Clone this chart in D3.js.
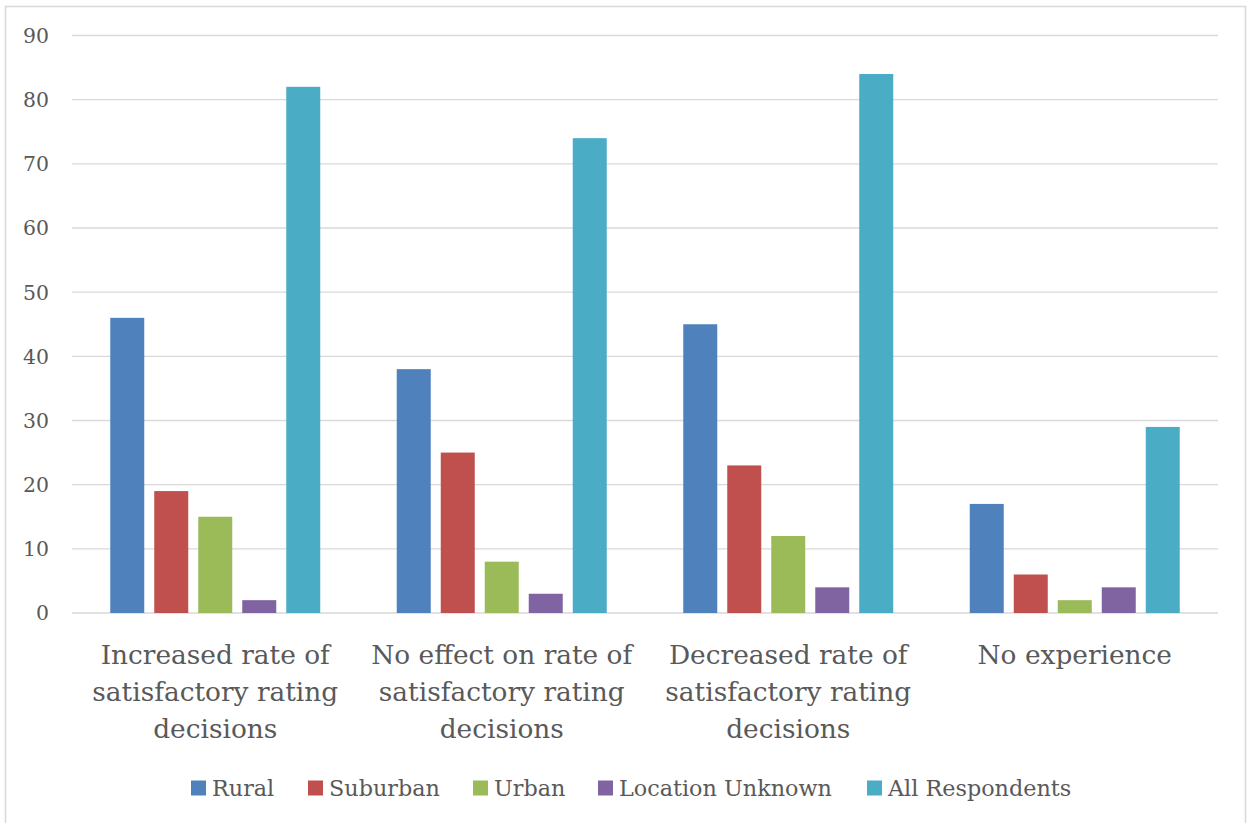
<!DOCTYPE html>
<html><head><meta charset="utf-8">
<script src="https://cdn.jsdelivr.net/npm/d3@7"></script>
<style>body{margin:0;background:#fff;} svg{display:block;}</style>
</head><body>
<svg id="c" width="1248" height="823"></svg>
<script>
const categories = [
  ["Increased rate of", "satisfactory rating", "decisions"],
  ["No effect on rate of", "satisfactory rating", "decisions"],
  ["Decreased rate of", "satisfactory rating", "decisions"],
  ["No experience"]
];
const seriesNames = ["Rural", "Suburban", "Urban", "Location Unknown", "All Respondents"];
const seriesColors = ["#4F81BD", "#C0504D", "#9BBB59", "#8064A2", "#4BACC6"];
const rural = [46, 38, 45, 17];
const suburban = [19, 25, 23, 6];
const urban = [15, 8, 12, 2];
const locationUnknown = [2, 3, 4, 4];
const allRespondents = [82, 74, 84, 29];
const yTicks = [0, 10, 20, 30, 40, 50, 60, 70, 80, 90];

const seriesValues = [rural, suburban, urban, locationUnknown, allRespondents];
const font = "'DejaVu Serif', serif";
const txt = "#595959";
const svg = d3.select("#c");

svg.append("rect").attr("x", 5.5).attr("y", 6.5).attr("width", 1240).attr("height", 830)
  .attr("fill", "#fff").attr("stroke", "#d9d9d9").attr("stroke-width", 1.5);

const pLeft = 72, pRight = 1218, pTop = 35.5, pBottom = 613;
const x0 = d3.scaleBand().domain(d3.range(categories.length)).range([pLeft, pRight]);
const x1 = d3.scaleBand().domain(d3.range(seriesNames.length)).range([0, 210]).paddingInner(10/44);
const y = d3.scaleLinear().domain([0, 90]).range([pBottom, pTop]);

// gridlines
svg.append("g").selectAll("line").data(yTicks).join("line")
  .attr("x1", pLeft).attr("x2", pRight)
  .attr("y1", d => y(d)).attr("y2", d => y(d))
  .attr("stroke", "#d9d9d9").attr("stroke-width", 1.3);

// y tick labels
svg.append("g").selectAll("text").data(yTicks).join("text")
  .attr("x", 49).attr("y", d => y(d)).attr("dy", "0.36em")
  .attr("text-anchor", "end").attr("fill", txt)
  .attr("font-family", font).attr("font-size", 20.4).text(d => d);

// bars
const groups = svg.append("g").selectAll("g").data(categories.map((c, i) => i)).join("g")
  .attr("transform", i => `translate(${x0(i) + x0.bandwidth()/2 - 105},0)`);
groups.selectAll("rect").data(i => seriesValues.map((s, k) => ({k, v: s[i]}))).join("rect")
  .attr("x", d => x1(d.k)).attr("width", x1.bandwidth())
  .attr("y", d => y(d.v)).attr("height", d => y(0) - y(d.v))
  .attr("fill", d => seriesColors[d.k]);

// category labels
const cl = svg.append("g").selectAll("text").data(categories).join("text")
  .attr("text-anchor", "middle").attr("fill", txt)
  .attr("font-family", font).attr("font-size", 26.4)
  .attr("transform", (d, i) => `translate(${x0(i) + x0.bandwidth()/2},0)`);
cl.selectAll("tspan").data(d => d).join("tspan")
  .attr("x", 0).attr("y", (d, j) => 664 + j * 37).text(d => d);

// legend
const legendX = [191, 308, 473, 598, 867];
const lg = svg.append("g").selectAll("g").data(seriesNames).join("g")
  .attr("transform", (d, i) => `translate(${legendX[i]},788)`);
lg.append("rect").attr("x", 0).attr("y", -7.5).attr("width", 15).attr("height", 15)
  .attr("fill", (d, i) => seriesColors[i]);
lg.append("text").attr("x", 21).attr("y", 0).attr("dy", "0.36em")
  .attr("fill", txt).attr("font-family", font).attr("font-size", 22.3).text(d => d);
</script>
</body></html>
